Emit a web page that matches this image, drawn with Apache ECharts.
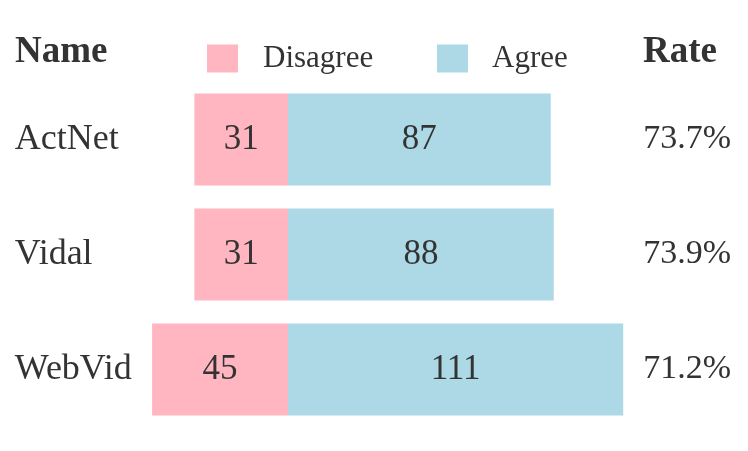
<!DOCTYPE html>
<html><head><meta charset="utf-8">
<script src="https://cdn.jsdelivr.net/npm/echarts@6/dist/echarts.min.js"></script>
<style>html,body{margin:0;padding:0;background:#fff}#c{width:748px;height:451px}</style>
</head><body><div id="c"></div>
<script>
const names = ['ActNet', 'Vidal', 'WebVid'];
const disagree = [31, 31, 45];
const agree = [87, 88, 111];
const rates = ['73.7%', '73.9%', '71.2%'];

const FONT = 'Liberation Serif';
const TXT = '#333333';
const chart = echarts.init(document.getElementById('c'), null, {renderer: 'canvas'});
chart.setOption({
  animation: false,
  backgroundColor: '#ffffff',
  title: [
    {text: 'Name', left: 15, top: 34, padding: 0, textStyle: {fontFamily: FONT, fontWeight: 'bold', fontSize: 37, color: TXT}},
    {text: 'Rate', left: 643, top: 34, padding: 0, textStyle: {fontFamily: FONT, fontWeight: 'bold', fontSize: 37, color: TXT}}
  ],
  legend: [
    {data: ['Disagree'], left: 207, top: 43, padding: 0, itemWidth: 31, itemHeight: 28, icon: 'rect',
     textStyle: {fontFamily: FONT, fontSize: 31, color: TXT, padding: [6, 0, 0, 20]}},
    {data: ['Agree'], left: 437, top: 43, padding: 0, itemWidth: 31, itemHeight: 28, icon: 'rect',
     textStyle: {fontFamily: FONT, fontSize: 31, color: TXT, padding: [6, 0, 0, 19]}}
  ],
  grid: {left: 106.8, width: 528.5, top: 82, height: 345, containLabel: false},
  xAxis: {type: 'value', min: -60, max: 115, show: false},
  yAxis: [
    {type: 'category', data: names, inverse: true,
     axisLine: {show: false}, axisTick: {show: false},
     axisLabel: {align: 'left', margin: 92, fontFamily: FONT, fontSize: 36, color: TXT}},
    {type: 'category', data: rates, inverse: true, position: 'right',
     axisLine: {show: false}, axisTick: {show: false},
     axisLabel: {align: 'left', margin: 8, fontFamily: FONT, fontSize: 34, color: TXT}}
  ],
  series: [
    {name: 'Disagree', type: 'bar', stack: 'a', barWidth: 92, yAxisIndex: 0,
     data: disagree.map(v => -v),
     itemStyle: {color: '#FFB6C1'},
     label: {show: true, position: 'inside', fontFamily: FONT, fontSize: 35, color: TXT,
             formatter: p => Math.abs(p.value)}},
    {name: 'Agree', type: 'bar', stack: 'a', barWidth: 92, yAxisIndex: 0,
     data: agree,
     itemStyle: {color: '#ADD8E6'},
     label: {show: true, position: 'inside', fontFamily: FONT, fontSize: 35, color: TXT}}
  ]
});
</script></body></html>
